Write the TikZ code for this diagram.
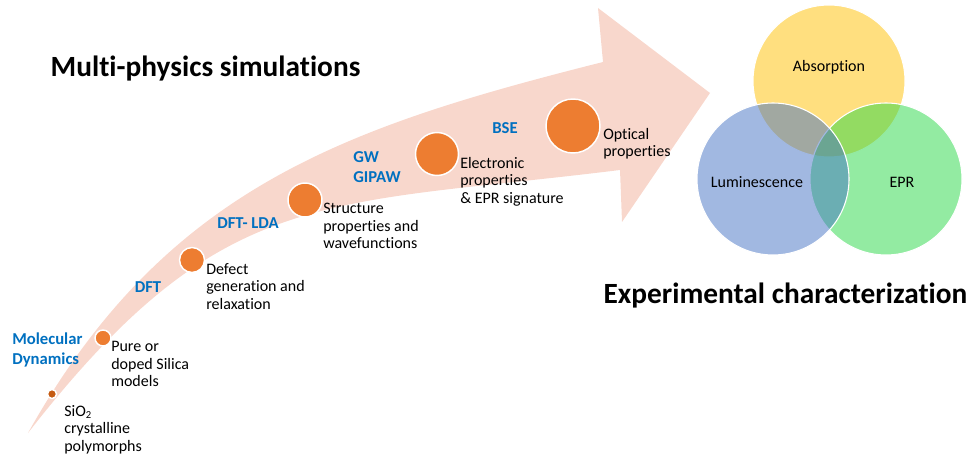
\documentclass[tikz,border=0pt]{standalone}
\usepackage{fontspec}
\setmainfont{Carlito}[Ligatures=NoCommon]
\usetikzlibrary{positioning}
\definecolor{arrowpink}{RGB}{248,215,204}
\definecolor{stageorange}{RGB}{237,125,49}
\definecolor{stagedark}{RGB}{197,90,17}
\definecolor{methodblue}{RGB}{0,112,192}
\definecolor{absyellow}{RGB}{255,192,0}
\definecolor{lumblue}{RGB}{68,114,196}
\definecolor{eprgreen}{RGB}{40,215,70}
\tikzset{stage/.style={circle, fill=stageorange, draw=white, line width=1.1pt, inner sep=0pt, minimum size=#1},
         method/.style={text=methodblue, font=\fontsize{12.5}{15}\selectfont\bfseries, align=left, inner sep=0pt},
         outcome/.style={anchor=north west, font=\fontsize{12}{13.2}\selectfont, align=left, inner sep=0pt},
         venntext/.style={anchor=base, font=\fontsize{12}{14}\selectfont, inner sep=0pt},
         headline/.style={anchor=base, font=\fontsize{22}{26}\selectfont\bfseries, inner sep=0pt},
         venn/.style={draw=white, line width=0.8pt, fill opacity=0.5}}

\begin{document}
\begin{tikzpicture}[x=0.75pt,y=-0.75pt]
   \useasboundingbox (0,0) rectangle (973,459);
   \fill[arrowpink] (28,433) .. controls (165,188) and (345,127) .. (603,62)
                    -- (598,8) -- (710,93) -- (622,222) -- (620,170)
                    .. controls (321,207) and (222,184) .. (28,433) -- cycle;

   \node[stage=6.75pt, fill=stagedark] (d1) at ( 52,394) {};
   \node[stage=12pt]    (d2) at (103,338) {};
   \node[stage=18.75pt] (d3) at (192,260) {};
   \node[stage=25.5pt]  (d4) at (305,200) {};
   \node[stage=32.25pt] (d5) at (437,154) {};
   \node[stage=40.5pt]  (d6) at (573,126) {};

   \node[outcome] (t1) at ( 64,405) {SiO\textsubscript{2}\\crystalline\\polymorphs};
   \node[outcome] (t2) at (111,341) {Pure or\\doped Silica\\models};
   \node[outcome] (t3) at (206,263) {Defect\\generation and\\relaxation};
   \node[outcome] (t4) at (323,203) {Structure\\properties and\\wavefunctions};
   \node[outcome] (t5) at (460,157) {Electronic\\properties\\\& EPR signature};
   \node[outcome] (t6) at (603,128) {Optical\\properties};

   \node[method, anchor=west] (m1) at ( 12,350) {Molecular\\Dynamics};
   \node[method]              (m2) at (148,287) {DFT};
   \node[method]              (m3) at (248,223) {DFT- LDA};
   \node[method, anchor=west] (m4) at (353,167) {GW\\GIPAW};
   \node[method]              (m5) at (505,128) {BSE};

   \draw[venn, fill=absyellow] (829, 81) circle[radius=76];
   \draw[venn, fill=eprgreen]  (886,179) circle[radius=76];
   \draw[venn, fill=lumblue]   (773,179) circle[radius=76];
   \node[venntext] (abs) at (829, 72) {Absorption};
   \node[venntext] (lum) at (757,188) {Luminescence};
   \node[venntext] (epr) at (902,188) {EPR};

   \node[headline] (sim) at (205.5, 77) {Multi-physics simulations};
   \node[headline] (exp) at (785.5,303) {Experimental characterization};
\end{tikzpicture}
\end{document}
